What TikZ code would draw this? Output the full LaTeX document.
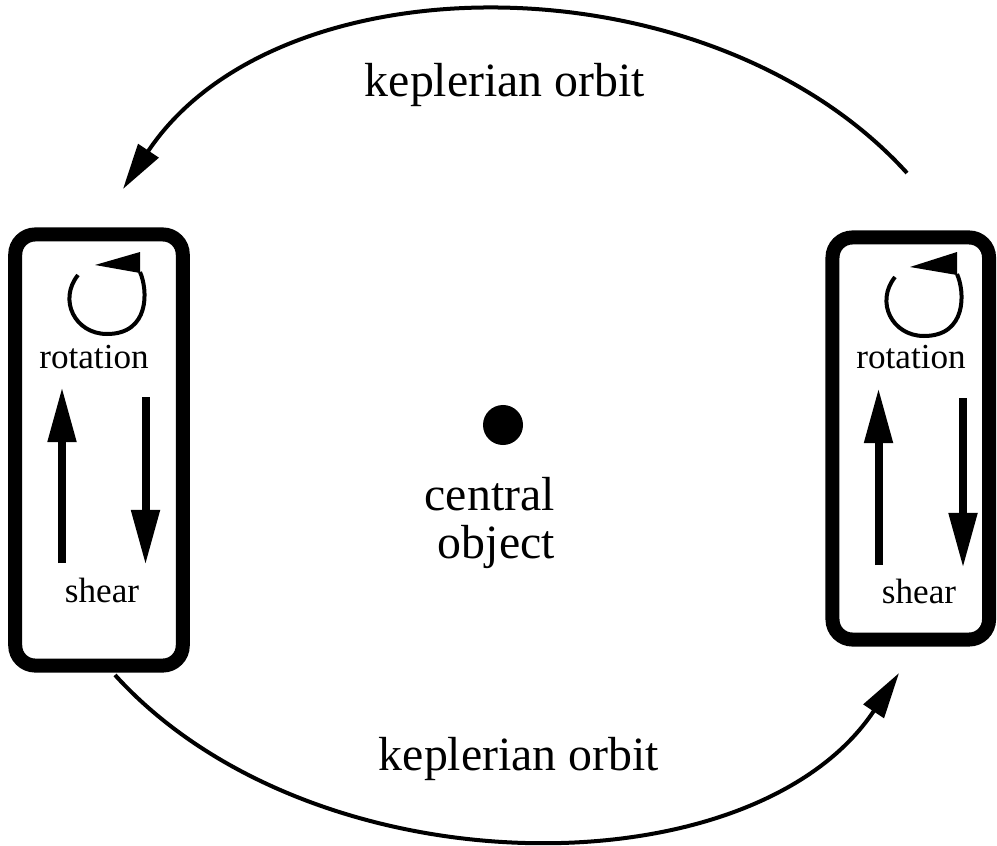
\documentclass[tikz,border=0pt]{standalone}
\usepackage{fontspec}
\setmainfont{Liberation Serif}
\usetikzlibrary{arrows.meta}
\tikzset{
	kasten/.style={draw, line width=0.35cm, rounded corners=0.5cm, inner sep=0pt},
	bahn/.style={line width=0.1cm, -{Triangle[length=1.15cm,width=0.6cm]}},
	scherpfeil/.style={line width=0.2cm, -{Triangle[length=1.375cm,width=0.675cm]}},
	gross/.style={font=\fontsize{34}{34}\selectfont, inner sep=0pt},
	klein/.style={font=\fontsize{25}{25}\selectfont, inner sep=0pt}
}
\begin{document}
\begin{tikzpicture}[x=0.025cm,y=-0.025cm]
		\useasboundingbox (0,0) rectangle (997,846);
		% Zentralobjekt
		\fill (503,425) circle [radius=0.5cm];
		\node[gross, anchor=base east] (zentral) at (555,510) {central};
		\node[gross, anchor=base east] (objekt) at (555,558) {object};
		% Kasten links
		\node[kasten, minimum width=4.1875cm, minimum height=10.775cm] (kastenL) at (99,450) {};
		\draw[line width=0.1cm] (78,275) .. controls (58,300) and (75,334) .. (107,334) .. controls (150,334) and (148,290) .. (140,272);
		\fill (140,252) -- (140,273) -- (95,265) -- cycle;
		\node[klein, anchor=base] (rotL) at (94,368) {rotation};
		\draw[scherpfeil] (62,563) -- (62,387);
		\draw[scherpfeil] (145.5,397) -- (145.5,565);
		\node[klein, anchor=base] (scherL) at (102,602) {shear};
		% Kasten rechts
		\node[kasten, minimum width=3.9125cm, minimum height=10.05cm] (kastenR) at (910.75,438.5) {};
		\draw[line width=0.1cm] (895,277) .. controls (875,302) and (892,336) .. (924,336) .. controls (967,336) and (965,292) .. (957,274);
		\fill (957,252) -- (957,275) -- (910,267) -- cycle;
		\node[klein, anchor=base] (rotR) at (911,368) {rotation};
		\draw[scherpfeil] (878.5,565) -- (878.5,388);
		\draw[scherpfeil] (963,398) -- (963,568);
		\node[klein, anchor=base] (scherR) at (919,603) {shear};
		% Bahn oben
		\coordinate (obenA) at (907,173);
		\coordinate (obenB) at (123,189);
		\draw[bahn] (obenA) .. controls (710,-44) and (278,-44) .. (obenB);
		\node[gross, anchor=base] (bahnOben) at (505,97) {keplerian orbit};
		% Bahn unten
		\coordinate (untenA) at (115,675);
		\coordinate (untenB) at (899,673);
		\draw[bahn] (untenA) .. controls (313,893) and (753,893) .. (untenB);
		\node[gross, anchor=base] (bahnUnten) at (519,770) {keplerian orbit};
\end{tikzpicture}
\end{document}
